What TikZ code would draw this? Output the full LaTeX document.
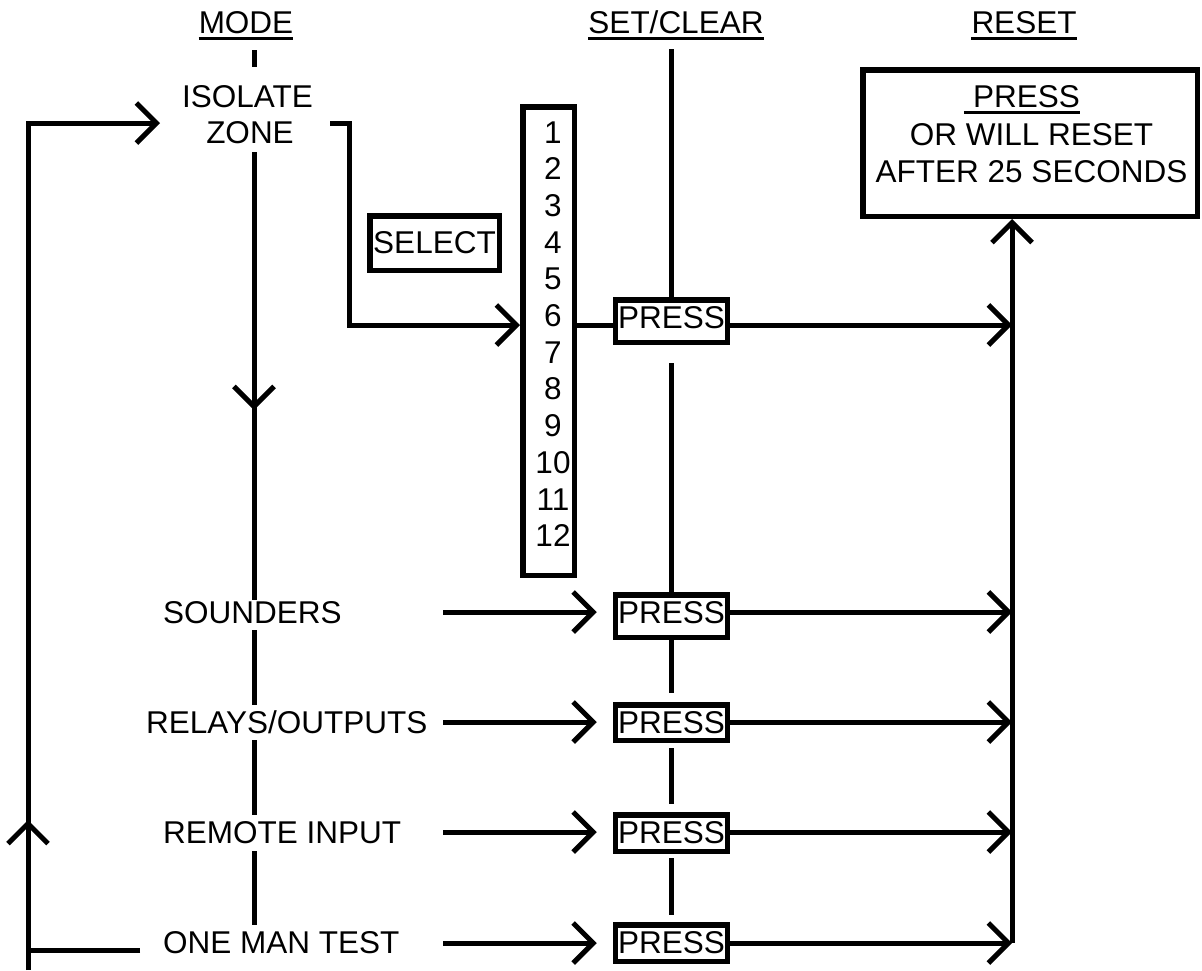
\documentclass[tikz,border=0pt]{standalone}
\usepackage{fontspec}
\setmainfont{Liberation Sans}
\usetikzlibrary{arrows.meta}
\begin{document}
\begin{tikzpicture}[x=1pt,y=-1pt,
  ln/.style={line width=5pt},
  arr/.style={ln,-{Straight Barb[length=20pt,width=40pt]}},
  txt/.style={inner sep=0pt,font=\fontsize{31.5}{37.5}\selectfont},
  bx/.style={draw,line width=5.5pt},
  pressbox/.style={txt,bx,minimum width=112pt,text height=28pt,inner ysep=0pt,inner xsep=0pt},
  ul/.style={line width=2.8pt}]
\useasboundingbox (0,0) rectangle (1202,970);
% headings
\node[txt,anchor=base] (mode) at (246,33) {MODE};
\node[txt,anchor=base] (setclr) at (676,33) {SET/CLEAR};
\node[txt,anchor=base] (reset) at (1024,33) {RESET};
\foreach \n in {mode,setclr,reset}
  \draw[ul] ([yshift=-5.7pt]\n.base west) -- ([yshift=-5.7pt]\n.base east);
% mode column labels
\node[txt,anchor=base] (iso) at (247.5,107) {ISOLATE};
\node[txt,anchor=base] (zone) at (250,143) {ZONE};
\node[txt,anchor=base west] (snd) at (163,623) {SOUNDERS};
\node[txt,anchor=base west] (rly) at (146,733) {RELAYS/OUTPUTS};
\node[txt,anchor=base west] (rmt) at (163,843) {REMOTE INPUT};
\node[txt,anchor=base west] (omt) at (163,953) {ONE MAN TEST};
% number box
\node[bx,minimum width=51.5pt,minimum height=468.5pt,inner sep=0pt] (nb) at (548.5,341) {};
\foreach \i in {1,...,12}
  \node[txt,anchor=base] (n\i) at (553,{143+36.7*(\i-1)}) {\i};
% select
\node[txt,bx,minimum width=129.5pt,minimum height=54.5pt] (sel) at (434.5,243) {SELECT};
% press boxes
\node[pressbox,text depth=14.25pt,anchor=base] (p6) at (671.5,328) {PRESS};
\node[pressbox,text depth=14.25pt,anchor=base] (ps) at (671.5,623) {PRESS};
\node[pressbox,text depth=7.5pt,anchor=base] (pr) at (671.5,733) {PRESS};
\node[pressbox,text depth=8.25pt,anchor=base] (pm) at (671.5,843) {PRESS};
\node[pressbox,text depth=8.25pt,anchor=base] (po) at (671.5,953) {PRESS};
% reset box
\node[bx,minimum width=334.5pt,minimum height=146.5pt,inner sep=0pt] (rbox) at (1030,143) {};
\node[txt,anchor=base] (rb1) at (1026.5,107) {PRESS};
\draw[ul] ([xshift=-9pt,yshift=-5.5pt]rb1.base west) -- ([yshift=-5.5pt]rb1.base east);
\node[txt,anchor=base] (rb2) at (1031.5,145) {OR WILL RESET};
\node[txt,anchor=base] (rb3) at (1031.5,182) {AFTER 25 SECONDS};
% coordinates
\coordinate (rl) at (1012,0);
\coordinate (r6) at (1012,325);
\coordinate (rs) at (1012,612);
\coordinate (rr) at (1012,722);
\coordinate (ri) at (1012,832);
\coordinate (ro) at (1012,943);
\coordinate (s0) at (443,612);
\coordinate (r0) at (443,722);
\coordinate (i0) at (443,832);
\coordinate (o0) at (443,943);
\coordinate (lt) at (160,123);
% reset line
\draw[arr] (ro) -- (rbox.south -| rl);
\draw[arr] (p6.east |- r6) -- (r6);
\draw[arr] (ps.east |- rs) -- (rs);
\draw[arr] (pr.east |- rr) -- (rr);
\draw[arr] (pm.east |- ri) -- (ri);
\draw[arr] (po.east |- ro) -- (ro);
% inputs
\draw[arr] (s0) -- ([xshift=-16pt]ps.west |- s0);
\draw[arr] (r0) -- ([xshift=-16pt]pr.west |- r0);
\draw[arr] (i0) -- ([xshift=-16pt]pm.west |- i0);
\draw[arr] (o0) -- ([xshift=-16pt]po.west |- o0);
\draw[ln] (nb.east |- r6) -- (p6.west |- r6);
% isolate bracket
\draw[arr] (330,123) -- (349,123) -- (349,325) -- (nb.west |- r6);
% left loop
\draw[arr] (28,970) -- (28,123) -- (lt);
\draw[arr] (28,860) -- (28,820);
\draw[ln] (140,950) -- (28,950);
% mode line
\draw[ln] (254,50) -- (254,67);
\draw[arr] (254,152) -- (254,410);
\draw[ln] (254,405) -- (254,600);
\draw[ln] (254,630) -- (254,705);
\draw[ln] (254,740) -- (254,815);
\draw[ln] (254,851) -- (254,925);
% set/clear line
\draw[ln] (671.5,49) -- (p6.north);
\draw[ln] (671.5,363) -- (ps.north);
\draw[ln] (ps.south) -- (671.5,693);
\draw[ln] (671.5,748) -- (671.5,804);
\draw[ln] (671.5,858) -- (671.5,915);
\end{tikzpicture}
\end{document}
